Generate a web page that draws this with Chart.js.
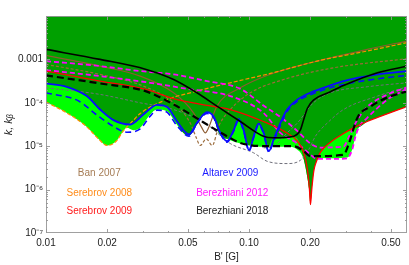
<!DOCTYPE html>
<html>
<head>
<meta charset="utf-8">
<script src="https://cdn.jsdelivr.net/npm/chart.js@4.4.1/dist/chart.umd.min.js"></script>
<style>
    html, body { margin: 0; padding: 0; background: #fff; }
    canvas { display: block; }
</style>
</head>
<body>
<canvas id="chart" width="409" height="265"></canvas>
<script>
// axis ticks
const xTickValues = [0.01, 0.02, 0.05, 0.1, 0.2, 0.5];
const xTickLabels = ['0.01', '0.02', '0.05', '0.10', '0.20', '0.50'];
const xMinorTicks = [0.03, 0.04, 0.06, 0.07, 0.08, 0.09, 0.3, 0.4, 0.6];
const yTickValues = [1e-7, 1e-6, 1e-5, 1e-4, 1e-3];
const yTickLabels = ['10\u207B\u2077', '10\u207B\u2076', '10\u207B\u2075', '10\u207B\u2074', '0.001'];
const yMinorFactors = [2, 3, 4, 5, 6, 7, 8, 9];

// excluded region: lower edge of the whole shaded area (light green)
const regionLowB = [0.01, 0.01255, 0.01575, 0.01826, 0.02, 0.02215, 0.02399, 0.025, 0.02698, 0.0291, 0.0326, 0.0352, 0.0394, 0.0441, 0.0467, 0.0506, 0.0554, 0.0621, 0.067, 0.0709, 0.0779, 0.0906, 0.1055, 0.1227, 0.154, 0.1725, 0.1861, 0.1933, 0.1985, 0.2007, 0.2037, 0.2084, 0.2149, 0.2249, 0.2617, 0.3045, 0.3223, 0.3347, 0.3476, 0.382, 0.4296, 0.6];
const regionLowK = [1.04e-4, 6.0e-5, 2.89e-5, 1.43e-5, 1.04e-5, 1.3e-5, 2.22e-5, 2.65e-5, 2.34e-5, 2.65e-5, 5.38e-5, 7.0e-5, 6.42e-5, 3.16e-5, 2.22e-5, 1.76e-5, 3.16e-5, 5.88e-5, 4.5e-5, 2.03e-5, 1.48e-5, 1.15e-5, 1.0e-5, 9.66e-6, 9.66e-6, 8.4e-6, 4.92e-6, 2.03e-6, 8.4e-7, 4.5e-7, 1.0e-6, 2.65e-6, 4.92e-6, 5.38e-6, 5.28e-6, 5.47e-6, 8.4e-6, 1.7e-5, 2.74e-5, 3.71e-5, 4.59e-5, 8.2e-5];

// lower edge of the dark green part
const darkLowB = [0.01, 0.01265, 0.01588, 0.01847, 0.02149, 0.02597, 0.0302, 0.0352, 0.0394, 0.0441, 0.0467, 0.0506, 0.0554, 0.0621, 0.067, 0.0709, 0.0779, 0.084, 0.0889, 0.0941, 0.1, 0.1055, 0.1116, 0.1181, 0.125, 0.1299, 0.1428, 0.1662, 0.1758, 0.1861, 0.1933, 0.1985, 0.2007, 0.2037, 0.2084, 0.2149, 0.2249, 0.2518, 0.2921, 0.3272, 0.3476, 0.382, 0.4296, 0.6];
const darkLowK = [2.79e-4, 2.34e-4, 1.43e-4, 7.0e-5, 3.98e-5, 3.16e-5, 5.38e-5, 8.99e-5, 8.09e-5, 3.78e-5, 2.22e-5, 1.76e-5, 3.16e-5, 5.88e-5, 4.5e-5, 2.03e-5, 1.48e-5, 2.34e-5, 4.27e-5, 2.34e-5, 1.04e-5, 1.7e-5, 3.33e-5, 2.03e-5, 1.0e-5, 1.43e-5, 1.48e-5, 1.64e-5, 1.3e-5, 4.92e-6, 2.03e-6, 8.4e-7, 4.5e-7, 1.0e-6, 2.65e-6, 4.5e-6, 7.27e-6, 1.24e-5, 1.96e-5, 2.65e-5, 2.74e-5, 3.71e-5, 4.59e-5, 8.2e-5];

// Serebrov 2009
const redB = [0.01, 0.01847, 0.03114, 0.0425, 0.0621, 0.0809, 0.1177, 0.1483, 0.1733, 0.1861, 0.194, 0.1985, 0.2007, 0.2037, 0.2084, 0.2149, 0.2249, 0.2518, 0.2921, 0.3272, 0.382, 0.4296, 0.6];
const redK = [5.38e-4, 3.16e-4, 2.03e-4, 1.24e-4, 8.68e-5, 7.0e-5, 3.71e-5, 2.22e-5, 1.3e-5, 7.0e-6, 2.89e-6, 1.0e-6, 4.5e-7, 1.0e-6, 2.65e-6, 4.5e-6, 7.27e-6, 1.24e-5, 1.96e-5, 2.65e-5, 3.71e-5, 4.59e-5, 8.2e-5];

// Berezhiani 2018
const blackSolidB = [0.01, 0.01847, 0.03114, 0.0425, 0.0554, 0.0695, 0.0906, 0.1177, 0.1323, 0.1662, 0.1792, 0.1861, 0.194, 0.2077, 0.2518, 0.2921, 0.4296, 0.6];
const blackSolidK = [1.7e-3, 1.0e-3, 5.88e-4, 3.45e-4, 1.7e-4, 8.4e-5, 3.71e-5, 1.7e-5, 1.56e-5, 1.7e-5, 2.4e-5, 4.2e-5, 7.5e-5, 1.15e-4, 1.8e-4, 2.5e-4, 4.92e-4, 7.0e-4];
const blackDashB = [0.01, 0.01847, 0.03114, 0.0425, 0.0621, 0.0779, 0.0906, 0.1227, 0.1662, 0.1861, 0.2007, 0.2921, 0.3091, 0.3424, 0.3969, 0.4815, 0.6];
const blackDashK = [4.27e-4, 2.79e-4, 1.83e-4, 9.15e-5, 3.16e-5, 1.7e-5, 1.19e-5, 1.0e-5, 1.0e-5, 7.67e-6, 5.88e-6, 6.31e-6, 1.09e-5, 4.59e-5, 8.2e-5, 1.33e-4, 1.83e-4];

// Altarev 2009
const blueB = [0.01, 0.01265, 0.01588, 0.01847, 0.02149, 0.02597, 0.0302, 0.0352, 0.0394, 0.0441, 0.0506, 0.0554, 0.0621, 0.067, 0.0722, 0.0779, 0.084, 0.0889, 0.0941, 0.1, 0.1055, 0.1116, 0.1181, 0.125, 0.1323, 0.1428, 0.154, 0.1733, 0.2077, 0.2518, 0.2921, 0.4296, 0.6];
const blueK = [2.79e-4, 2.34e-4, 1.43e-4, 7.0e-5, 3.98e-5, 3.16e-5, 5.38e-5, 8.99e-5, 8.09e-5, 3.78e-5, 1.86e-5, 3.45e-5, 6.09e-5, 4.75e-5, 2.03e-5, 1.3e-5, 2.34e-5, 4.27e-5, 2.34e-5, 8.09e-6, 1.7e-5, 3.33e-5, 2.03e-5, 7.67e-6, 1.43e-5, 3.45e-5, 7.0e-5, 1.19e-4, 1.83e-4, 2.51e-4, 3.16e-4, 4.5e-4, 5.38e-4];
const blueDashB = [0.01, 0.01455, 0.01765, 0.02141, 0.025, 0.0291, 0.0326, 0.0352, 0.0394, 0.0441, 0.0506, 0.0554, 0.0621, 0.067, 0.0722, 0.0779, 0.084, 0.0889, 0.0941, 0.1, 0.1055, 0.1116, 0.1181, 0.125, 0.1323, 0.1428, 0.154, 0.1733, 0.2077, 0.2518, 0.2921, 0.4296, 0.6];
const blueDashK = [1.7e-4, 1.09e-4, 5.38e-5, 2.89e-5, 2.1e-5, 2.51e-5, 4.92e-5, 6.77e-5, 6.09e-5, 3.0e-5, 1.7e-5, 3.33e-5, 5.68e-5, 4.5e-5, 1.96e-5, 1.24e-5, 2.22e-5, 3.98e-5, 2.22e-5, 7.8e-6, 1.58e-5, 3.1e-5, 1.93e-5, 7.4e-6, 1.3e-5, 3.0e-5, 6.31e-5, 1.09e-4, 1.64e-4, 2.22e-4, 2.65e-4, 3.58e-4, 4.27e-4];

// Berezhiani 2012
const magAB = [0.01, 0.01847, 0.0291, 0.0425, 0.0621, 0.0906, 0.1177, 0.1483, 0.1733, 0.2007, 0.2249, 0.2921, 0.3091, 0.3424, 0.3837, 0.4815, 0.6];
const magAK = [9.15e-4, 7.0e-4, 5.38e-4, 4.5e-4, 3.16e-4, 2.1e-4, 8.68e-5, 4.12e-5, 2.22e-5, 1.15e-5, 9.31e-6, 9.83e-6, 1.58e-5, 4.12e-5, 8.2e-5, 1.56e-4, 2.26e-4];
const magBB = [0.01, 0.01847, 0.0326, 0.0494, 0.0809, 0.1177, 0.1428, 0.1733, 0.2007, 0.2165, 0.2617, 0.3045, 0.3223, 0.3347, 0.3476, 0.382, 0.4815, 0.6];
const magBK = [5.68e-4, 4.12e-4, 2.89e-4, 2.1e-4, 1.43e-4, 5.88e-5, 2.03e-5, 1.15e-5, 6.42e-6, 5.1e-6, 5.1e-6, 5.28e-6, 8.4e-6, 1.7e-5, 2.74e-5, 4.5e-5, 1.19e-4, 2.1e-4];

// Serebrov 2008
const orangeB = [0.01, 0.01255, 0.01575, 0.01826, 0.02, 0.02215, 0.02399, 0.02698, 0.0291, 0.0394, 0.0513, 0.0809, 0.1274, 0.2165, 0.382, 0.6];
const orangeK = [1.04e-4, 6.0e-5, 2.89e-5, 1.43e-5, 1.04e-5, 1.3e-5, 2.22e-5, 3.98e-5, 5.68e-5, 1.19e-4, 1.7e-4, 2.89e-4, 4.75e-4, 9.15e-4, 1.56e-3, 2.43e-3];

// Ban 2007
const brownB = [0.01, 0.01847, 0.0291, 0.0425, 0.0533, 0.0586, 0.0609, 0.0632, 0.0695, 0.0906, 0.1227, 0.2165, 0.382, 0.6];
const brownK = [1.24e-3, 7.0e-4, 4.12e-4, 1.7e-4, 5.88e-5, 2.65e-5, 2.03e-5, 2.65e-5, 8.4e-5, 2.22e-4, 4.27e-4, 9.15e-4, 1.7e-3, 2.65e-3];
const brownDashB = [0.01, 0.01847, 0.0302, 0.0425, 0.0513, 0.055, 0.0575, 0.0616, 0.0659, 0.0709, 0.0809, 0.1015, 0.1483, 0.2617, 0.6];
const brownDashK = [7.67e-4, 4.5e-4, 2.42e-4, 1.0e-4, 3.45e-5, 1.56e-5, 1.04e-5, 1.48e-5, 1.04e-5, 2.89e-5, 7.0e-5, 1.7e-4, 3.45e-4, 6.42e-4, 1.04e-3];

// thin grey dashed curves
const grayAB = [0.01, 0.01847, 0.0291, 0.0425, 0.0621, 0.0809, 0.1055, 0.1227, 0.154, 0.1792, 0.197, 0.2124, 0.2435, 0.2921, 0.4296, 0.6];
const grayAK = [2.22e-4, 1.56e-4, 1.0e-4, 7.0e-5, 3.16e-5, 1.15e-5, 7.0e-6, 4.5e-6, 3.98e-6, 4.75e-6, 8.4e-6, 1.7e-5, 3.45e-5, 7.0e-5, 1.43e-4, 2.34e-4];
const grayBB = [0.1181, 0.1323, 0.154, 0.1733, 0.2077, 0.2518, 0.382, 0.6];
const grayBK = [9.15e-6, 1.0e-5, 2.03e-5, 3.45e-5, 1.0e-4, 1.7e-4, 2.34e-4, 2.89e-4];

// in-plot legend
const legendNames = ['Ban 2007', 'Serebrov 2008', 'Serebrov 2009', 'Altarev 2009', 'Berezhiani 2012', 'Berezhiani 2018'];
const legendColors = ['#a57c55', '#ff8c1a', '#ff1a1a', '#1a1aff', '#ff1aff', '#222222'];
const legendAnchorB = [0.0183, 0.0183, 0.0183, 0.0809, 0.0827, 0.0827];
const legendAnchorK = [2.42e-6, 8.4e-7, 3.22e-7, 2.42e-6, 8.4e-7, 3.22e-7];

const FONT = "'Liberation Sans', Arial, Helvetica, sans-serif";

function pairs(bs, ks) {
    return bs.map((b, i) => ({ x: b, y: ks[i] }));
}

function line(data, color, width, dash, order) {
    return {
        data: data,
        borderColor: color,
        borderWidth: width,
        borderDash: dash,
        pointRadius: 0,
        fill: false,
        cubicInterpolationMode: 'monotone',
        order: order
    };
}

// frame, inward ticks and the coloured legend texts
const decorations = {
    id: 'decorations',
    afterDatasetsDraw(chart) {
        const { ctx, chartArea: a, scales: { x, y } } = chart;
        ctx.save();
        ctx.strokeStyle = 'rgba(150,150,150,0.9)';
        ctx.lineWidth = 1;
        ctx.strokeRect(a.left + 0.5, a.top + 0.5, a.right - a.left - 1, a.bottom - a.top - 1);

        ctx.beginPath();
        const xs = xTickValues.map(v => [v, 4]).concat(xMinorTicks.map(v => [v, 2]));
        xs.forEach(([v, len]) => {
            const px = Math.round(x.getPixelForValue(v)) + 0.5;
            if (px < a.left || px > a.right) return;
            ctx.moveTo(px, a.bottom); ctx.lineTo(px, a.bottom - len);
            ctx.moveTo(px, a.top); ctx.lineTo(px, a.top + len);
        });
        const ys = [];
        yTickValues.forEach(v => {
            ys.push([v, 4]);
            yMinorFactors.forEach(f => ys.push([v * f, 2]));
        });
        ys.push([1e-2, 4]);
        ys.forEach(([v, len]) => {
            const py = Math.round(y.getPixelForValue(v)) + 0.5;
            if (py < a.top || py > a.bottom) return;
            ctx.moveTo(a.left, py); ctx.lineTo(a.left + len, py);
            ctx.moveTo(a.right, py); ctx.lineTo(a.right - len, py);
        });
        ctx.stroke();

        ctx.font = '10px ' + FONT;
        ctx.textAlign = 'center';
        ctx.textBaseline = 'middle';
        legendNames.forEach((name, i) => {
            ctx.fillStyle = legendColors[i];
            ctx.fillText(name, x.getPixelForValue(legendAnchorB[i]), y.getPixelForValue(legendAnchorK[i]));
        });
        ctx.restore();
    }
};

new Chart(document.getElementById('chart'), {
    type: 'line',
    data: {
        datasets: [
            { data: pairs(regionLowB, regionLowK), fill: 'end', backgroundColor: '#00ff00', borderWidth: 0, pointRadius: 0, cubicInterpolationMode: 'monotone', order: 30 },
            { data: pairs(darkLowB, darkLowK), fill: 'end', backgroundColor: '#00a000', borderWidth: 0, pointRadius: 0, cubicInterpolationMode: 'monotone', order: 29 },
            line(pairs(grayAB, grayAK), '#6f6f7a', 1, [3, 2], 12),
            line(pairs(grayBB, grayBK), '#6f6f7a', 1, [3, 2], 12),
            line(pairs(brownDashB, brownDashK), '#9a6a3a', 1.2, [3, 2], 11),
            line(pairs(brownB, brownK), '#8c5a30', 1.2, [], 10),
            line(pairs(orangeB, orangeK), '#ff8c00', 1.2, [4, 2], 9),
            line(pairs(magBB, magBK), '#ff00ff', 1.8, [5, 3], 8),
            line(pairs(magAB, magAK), '#ff00ff', 1.8, [5, 3], 7),
            line(pairs(redB, redK), '#ff0000', 1.3, [], 6),
            line(pairs(blueDashB, blueDashK), '#0a0aff', 1.6, [6, 4], 5),
            line(pairs(blueB, blueK), '#0a0aff', 1.8, [], 4),
            line(pairs(blackDashB, blackDashK), '#000000', 2.2, [7, 4], 3),
            line(pairs(blackSolidB, blackSolidK), '#000000', 1.6, [], 2)
        ]
    },
    options: {
        responsive: false,
        animation: false,
        devicePixelRatio: 1,
        layout: { padding: { top: 16, right: 2, left: 0, bottom: 0 } },
        plugins: {
            legend: { display: false },
            tooltip: { enabled: false }
        },
        scales: {
            x: {
                type: 'logarithmic',
                min: 0.01,
                max: 0.6,
                grid: { display: false, drawTicks: false },
                border: { display: false },
                afterBuildTicks: s => { s.ticks = xTickValues.map(v => ({ value: v })); },
                afterFit: s => { s.height = 32; },
                ticks: {
                    autoSkip: false,
                    maxRotation: 0,
                    padding: 4,
                    color: '#222',
                    font: { family: FONT, size: 10 },
                    callback: v => { const i = xTickValues.indexOf(v); return i >= 0 ? xTickLabels[i] : ''; }
                },
                title: {
                    display: true,
                    text: "B' [G]",
                    color: '#222',
                    font: { family: FONT, size: 10 },
                    padding: { top: 0, bottom: 2 }
                }
            },
            y: {
                type: 'logarithmic',
                min: 1e-7,
                max: 1e-2,
                grid: { display: false, drawTicks: false },
                border: { display: false },
                afterBuildTicks: s => { s.ticks = yTickValues.map(v => ({ value: v })); },
                afterFit: s => { s.width = 46; },
                ticks: {
                    autoSkip: false,
                    padding: 3,
                    color: '#222',
                    font: { family: FONT, size: 10 },
                    callback: v => { const i = yTickValues.indexOf(v); return i >= 0 ? yTickLabels[i] : ''; }
                },
                title: {
                    display: true,
                    text: 'k, k\u1D66',
                    color: '#222',
                    font: { family: FONT, size: 11, style: 'italic' },
                    padding: { top: 2, bottom: 0 }
                }
            }
        }
    },
    plugins: [decorations]
});
</script>
</body>
</html>
